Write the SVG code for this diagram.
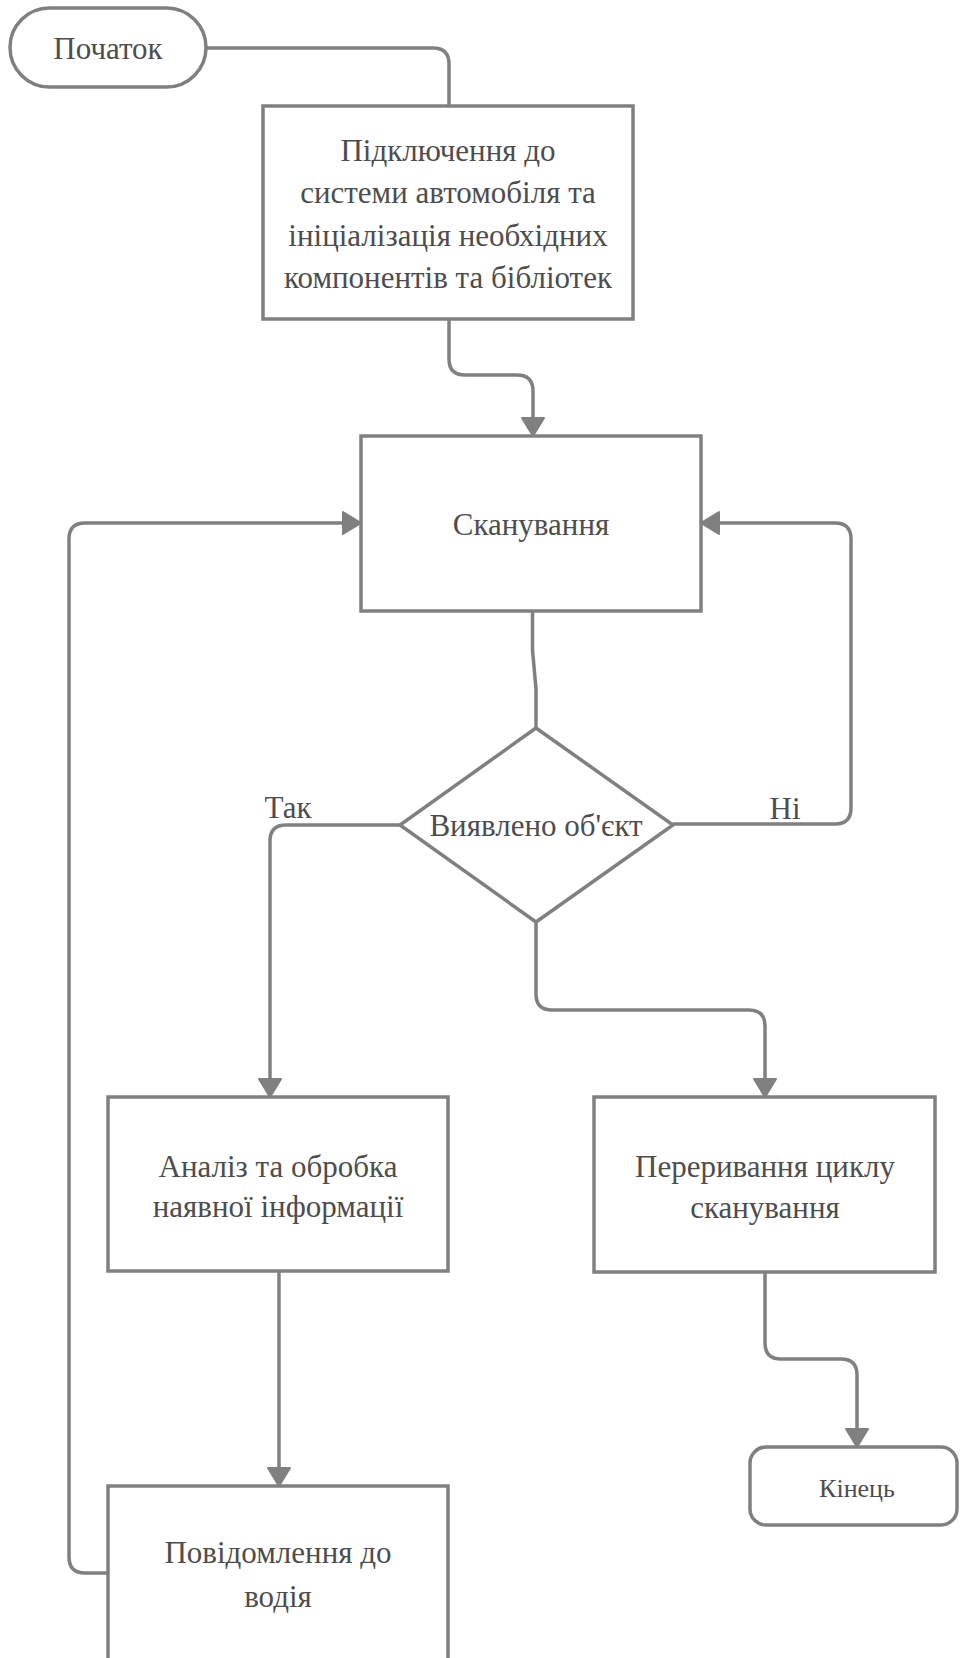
<svg xmlns="http://www.w3.org/2000/svg" width="960" height="1658" viewBox="0 0 960 1658">
<style>
.n{fill:#fff;stroke:#808080;stroke-width:3.5}
.c{fill:none;stroke:#808080;stroke-width:3.5;stroke-linejoin:round}
text{font-family:"Liberation Serif","Times New Roman",serif;font-size:31px;fill:#4d4d4d;text-anchor:middle}
.s{font-size:26px}
</style>
<defs>
<marker id="ah" markerUnits="userSpaceOnUse" markerWidth="24" markerHeight="28" refX="20" refY="13" orient="auto">
<path d="M2,2 L20,13 L2,24 z" fill="#808080" stroke="#808080" stroke-width="2" stroke-linejoin="round"/>
</marker>
</defs>
<rect width="960" height="1658" fill="#fff"/>
<g id="connectors">
<path class="c" d="M207,48 L433,48 Q449,48 449,64 L449,106"/>
<path class="c" d="M449,319 L449,359 Q449,375 465,375 L517,375 Q533,375 533,391 L533,436" marker-end="url(#ah)"/>
<path class="c" d="M532.5,611 L532.5,650 L536,689 L536,728"/>
<path class="c" d="M400,825 L286,825 Q270,825 270,841 L270,1097" marker-end="url(#ah)"/>
<path class="c" d="M673,824 L835,824 Q851,824 851,808 L851,539 Q851,523 835,523 L701,523" marker-end="url(#ah)"/>
<path class="c" d="M536,922 L536,994 Q536,1010 552,1010 L749,1010 Q765,1010 765,1026 L765,1097" marker-end="url(#ah)"/>
<path class="c" d="M279,1271 L279,1486" marker-end="url(#ah)"/>
<path class="c" d="M108,1573 L85,1573 Q69,1573 69,1557 L69,539 Q69,523 85,523 L361,523" marker-end="url(#ah)"/>
<path class="c" d="M765,1272 L765,1343 Q765,1359 781,1359 L841,1359 Q857,1359 857,1375 L857,1447" marker-end="url(#ah)"/>
<text x="288" y="818">Так</text>
<text x="785" y="819">Ні</text>
</g>
<g id="start">
<rect class="n" x="10" y="8" width="196" height="79" rx="39.5"/>
<text x="108" y="59">Початок</text>
</g>
<g id="init">
<rect class="n" x="263" y="106" width="370" height="213"/>
<text x="448" y="161">Підключення до</text>
<text x="448" y="203">системи автомобіля та</text>
<text x="448" y="246">ініціалізація необхідних</text>
<text x="448" y="288">компонентів та бібліотек</text>
</g>
<g id="scan">
<rect class="n" x="361" y="436" width="340" height="175"/>
<text x="531" y="535">Сканування</text>
</g>
<g id="decision">
<polygon class="n" points="536,728 673,825 536,922 400,825"/>
<text x="536" y="836">Виявлено об'єкт</text>
</g>
<g id="analysis">
<rect class="n" x="108" y="1097" width="340" height="174"/>
<text x="278" y="1177">Аналіз та обробка</text>
<text x="278" y="1217">наявної інформації</text>
</g>
<g id="interrupt">
<rect class="n" x="594" y="1097" width="341" height="175"/>
<text x="765" y="1177">Переривання циклу</text>
<text x="765" y="1218">сканування</text>
</g>
<g id="notify">
<rect class="n" x="108" y="1486" width="340" height="175"/>
<text x="278" y="1563">Повідомлення до</text>
<text x="278" y="1607">водія</text>
</g>
<g id="end">
<rect class="n" x="750" y="1447" width="207" height="78" rx="16"/>
<text class="s" x="857" y="1497">Кінець</text>
</g>
</svg>
